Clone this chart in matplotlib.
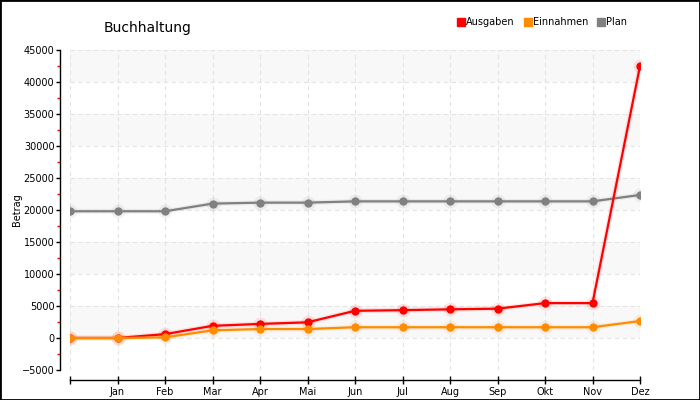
import numpy as np
import matplotlib
matplotlib.use("Agg")
import matplotlib.pyplot as plt
from matplotlib.patches import Rectangle
from matplotlib.lines import Line2D

# Daten
monate = ["", "Jan", "Feb", "Mar", "Apr", "Mai", "Jun", "Jul", "Aug", "Sep", "Okt", "Nov", "Dez"]
ausgaben = [0, 0, 600, 1900, 2200, 2450, 4250, 4350, 4480, 4580, 5450, 5450, 42500]
einnahmen = [0, 0, 100, 1200, 1400, 1400, 1680, 1680, 1680, 1680, 1680, 1680, 2650]
plan = [19800, 19800, 19800, 21000, 21150, 21150, 21350, 21350, 21350, 21350, 21350, 21350, 22350]

serien = [("Ausgaben", ausgaben, "#ff0000"),
          ("Einnahmen", einnahmen, "#ff8c00"),
          ("Plan", plan, "#808080")]

fig = plt.figure(figsize=(7, 4), dpi=100)
ax = fig.add_axes([70 / 700, 30 / 400, 570 / 700, 320 / 400])

x = np.arange(len(monate))

# abwechselnde Hintergrundstreifen
for y0 in range(0, 45000, 10000):
    ax.axhspan(y0, y0 + 5000, color="#f8f8f8", zorder=0, lw=0)

ax.set_xlim(0, 12)
ax.set_ylim(-5000, 45000)
ax.set_yticks(np.arange(-5000, 45001, 5000))
ax.set_yticks(np.arange(-2500, 45000, 5000), minor=True)
ax.set_xticks(x)
ax.set_xticklabels(monate)
ax.grid(True, which="major", color="#e4e4e4", linestyle=(0, (4, 3)), linewidth=0.8, zorder=1)

for name, werte, farbe in [serien[2], serien[0], serien[1]]:
    ax.plot(x, werte, color=farbe, lw=3.5, alpha=0.1, zorder=2, solid_capstyle="round")
    ax.plot(x, werte, "o", color=farbe, ms=10, alpha=0.1, zorder=2, mec="none")
    ax.plot(x, werte, "-o", color=farbe, lw=1.6, ms=5, zorder=3, mec=farbe)

for side in ["top", "right"]:
    ax.spines[side].set_visible(False)
ax.spines["left"].set_position(("outward", 7.2))
ax.spines["bottom"].set_position(("outward", 7.2))
ax.spines["left"].set_linewidth(1.0)
ax.spines["bottom"].set_linewidth(1.0)

ax.tick_params(axis="y", which="major", direction="out", length=3, width=1, labelsize=7, pad=1)
ax.tick_params(axis="y", which="minor", direction="out", length=2.5, width=1, color="#ff0000")
ax.tick_params(axis="x", which="major", direction="inout", length=6, width=1, labelsize=7, pad=2)

ax.set_ylabel("Betrag", fontsize=7)
ax.yaxis.set_label_coords((22 - 70) / 570, 0.5)

fig.text(148 / 700, 1 - 28 / 400, "Buchhaltung", fontsize=10, ha="center", va="center")

griffe = [Line2D([], [], marker="s", ls="none", color=f, ms=5.5) for _, _, f in serien]
fig.legend(griffe, [n for n, _, _ in serien], loc="center right",
           bbox_to_anchor=(636 / 700, 1 - 22 / 400), ncol=3, frameon=False,
           fontsize=7, handletextpad=0.05, columnspacing=0.8, handlelength=1)

# schwarzer Rahmen
fig.patches.append(Rectangle((0, 0), 1, 1, transform=fig.transFigure, fill=False,
                             edgecolor="black", lw=2))

fig.savefig("out.png", dpi=100)
